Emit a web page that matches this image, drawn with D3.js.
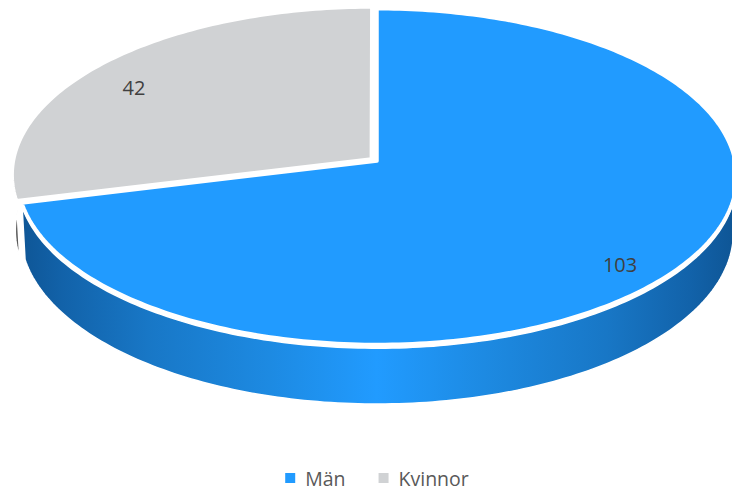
<!DOCTYPE html>
<html><head><meta charset="utf-8">
<script src="https://cdn.jsdelivr.net/npm/d3@7"></script>
<style>body{margin:0;background:#fff;overflow:hidden}</style>
</head><body><svg id="c" width="732" height="493"></svg>
<script>
const categories = ["Män", "Kvinnor"];
const values = [103, 42];
const colors = ["#219bff", "#d0d2d4"];
const explodeAmt = [0, 0.02];

// projection parameters (3D perspective pie)
const cx = 377, cy0 = 161, k = 358;
const alpha = 27.7 * Math.PI / 180;
const s = Math.sin(alpha), c = Math.cos(alpha);
const D = 9.52;
const thick = 0.177;
const wallGap = 0.011;

function proj(X, Y, Z) {
  const depth = D + Z * c - Y * s;
  return [cx + k * D * X / depth, cy0 - k * D * (Z * s + Y * c) / depth];
}

const svg = d3.select("#c");
const defs = svg.append("defs");

function wallGradient(id, stops) {
  const g = defs.append("linearGradient").attr("id", id)
    .attr("gradientUnits", "userSpaceOnUse")
    .attr("x1", cx - k).attr("x2", cx + k).attr("y1", 0).attr("y2", 0);
  stops.forEach(([o, col]) => g.append("stop").attr("offset", o).attr("stop-color", col));
}
wallGradient("wall0", [[0, "#0e5595"], [0.06, "#1262a9"], [0.18, "#1877c6"], [0.35, "#1d8ae2"], [0.5, "#219bff"], [0.65, "#1d8ae2"], [0.82, "#1877c6"], [0.94, "#1262a9"], [1, "#0e5595"]]);
wallGradient("wall1", [[0, "#5a5a5a"], [0.012, "#7e7e7e"], [0.18, "#a4a5a6"], [0.5, "#d0d2d4"], [0.82, "#a4a5a6"], [0.988, "#7e7e7e"], [1, "#5a5a5a"]]);

const pie = d3.pie().sort(null).value(d => d);
const arcs = pie(values).map((a, i) => {
  const mid = (a.startAngle + a.endAngle) / 2;
  return {
    i, a0: a.startAngle, a1: a.endAngle, mid,
    ox: Math.sin(mid) * explodeAmt[i], oz: Math.cos(mid) * explodeAmt[i]
  };
});

const line = d3.line();
const step = Math.PI / 180;

function rimPts(d, t0, t1, Y) {
  const pts = [];
  const n = Math.max(2, Math.ceil((t1 - t0) / step));
  for (let j = 0; j <= n; j++) {
    const t = t0 + (t1 - t0) * j / n;
    pts.push(proj(d.ox + Math.sin(t), Y, d.oz + Math.cos(t)));
  }
  return pts;
}

// farthest slice first
const order = arcs.slice().sort((p, q) => Math.cos(q.mid) - Math.cos(p.mid));

order.forEach(d => {
  const g = svg.append("g");
  const lim = Math.acos(-1 / (D * c));
  const v0 = Math.max(d.a0, lim), v1 = Math.min(d.a1, 1.5 * Math.PI);
  if (v1 > v0) {
    const top = rimPts(d, v0, v1, -wallGap);
    const bot = rimPts(d, v0, v1, -thick).reverse();
    g.append("path").attr("d", line(top.concat(bot)) + "Z")
      .attr("fill", `url(#wall${d.i})`).attr("stroke", "#fff")
      .attr("stroke-width", 1.5).attr("stroke-linejoin", "round");
  }
  const topPts = [proj(d.ox, 0, d.oz)].concat(rimPts(d, d.a0, d.a1, 0));
  g.append("path").attr("d", line(topPts) + "Z")
    .attr("fill", colors[d.i]).attr("stroke", "#fff")
    .attr("stroke-width", 3.5).attr("stroke-linejoin", "round");
});

// data labels (placed on the flat bounding ellipse of the top face)
const yTop = proj(0, 0, 1)[1], yBot = proj(0, 0, -1)[1];
const cyE = (yTop + yBot) / 2, ryE = (yBot - yTop) / 2;
arcs.forEach(d => {
  const r = 0.86;
  const x = cx + r * k * Math.sin(d.mid);
  const y = cyE - r * ryE * Math.cos(d.mid);
  svg.append("text").attr("x", x).attr("y", y + 7)
    .attr("text-anchor", "middle")
    .attr("font-family", "'Open Sans', sans-serif").attr("font-size", 20)
    .attr("fill", "#404040").text(values[d.i]);
});

// legend
const lg = svg.append("g");
let x = 0;
categories.forEach((name, i) => {
  const it = lg.append("g");
  it.append("rect").attr("x", x).attr("y", 473).attr("width", 10).attr("height", 10).attr("fill", colors[i]);
  const t = it.append("text").attr("x", x + 20).attr("y", 486)
    .attr("font-family", "'Open Sans', sans-serif").attr("font-size", 19.5)
    .attr("fill", "#595959").text(name);
  x += 20 + t.node().getComputedTextLength() + 33;
});
const totalW = x - 33;
lg.attr("transform", `translate(${377 - totalW / 2},0)`);
</script></body></html>
